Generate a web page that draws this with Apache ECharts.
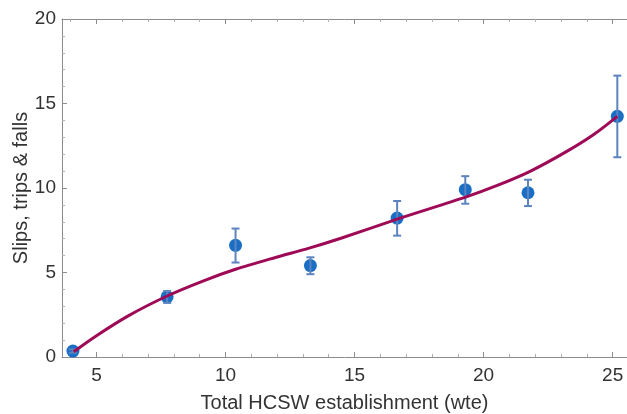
<!DOCTYPE html>
<html>
<head>
<meta charset="utf-8">
<script src="https://cdn.jsdelivr.net/npm/echarts@6/dist/echarts.min.js"></script>
<style>
html,body{margin:0;padding:0;background:#fff;}
#c{width:627px;height:414px;}
</style>
</head>
<body>
<div id="c"></div>
<script>
// Observed points
var pointX = [4.09, 7.74, 10.39, 13.29, 16.65, 19.29, 21.72, 25.18];
var pointY = [0.35, 3.56, 6.61, 5.41, 8.22, 9.90, 9.72, 14.24];
var errLow = [0.25, 3.20, 5.59, 4.90, 7.18, 9.07, 8.93, 11.82];
var errHigh = [0.45, 3.90, 7.60, 5.90, 9.23, 10.70, 10.49, 16.65];
// Fitted curve
var curveX = [4.12, 4.96, 6.25, 7.74, 9.10, 10.39, 11.94, 13.24, 14.50, 16.71, 19.30, 20.53, 21.82, 23.24, 24.28, 25.18];
var curveY = [0.31, 1.22, 2.45, 3.61, 4.48, 5.19, 5.89, 6.44, 7.04, 8.19, 9.46, 10.15, 11.00, 12.18, 13.18, 14.24];
// Axis settings
var xRange = [3.667, 25.555];
var yRange = [0, 20];
var yTickStep = 5;
var xTitle = 'Total HCSW establishment (wte)';
var yTitle = 'Slips, trips & falls';

var pts = pointX.map(function (x, i) { return [x, pointY[i]]; });
var errs = pointX.map(function (x, i) { return [x, errLow[i], errHigh[i]]; });
var curve = curveX.map(function (x, i) { return [x, curveY[i]]; });

var axisGray = '#8c8c8c';
var textColor = '#333333';
var fontFam = '"Liberation Sans", Arial, sans-serif';

var chart = echarts.init(document.getElementById('c'), null, {renderer: 'canvas'});
chart.setOption({
  animation: false,
  grid: {left: 62, top: 19, right: 0, bottom: 57, containLabel: false, outerBoundsMode: 'none'},
  xAxis: [{
    type: 'value', min: xRange[0], max: xRange[1],
    name: xTitle, nameLocation: 'middle', nameGap: 36, nameMoveOverlap: false,
    nameTextStyle: {fontSize: 20, color: textColor, fontFamily: fontFam},
    axisLine: {show: true, lineStyle: {color: axisGray, width: 1}},
    axisTick: {show: true, inside: true, length: 5, lineStyle: {color: axisGray}},
    minorTick: {show: true, splitNumber: 5, length: 3, lineStyle: {color: '#b0b0b0'}},
    axisLabel: {fontSize: 19, color: textColor, fontFamily: fontFam, margin: 9, showMinLabel: false, showMaxLabel: false},
    splitLine: {show: false}
  }, {
    type: 'value', min: xRange[0], max: xRange[1], position: 'top',
    axisLine: {show: true, lineStyle: {color: axisGray, width: 1}},
    axisTick: {show: true, inside: true, length: 5, lineStyle: {color: axisGray}},
    minorTick: {show: true, splitNumber: 5, length: 3, lineStyle: {color: '#b0b0b0'}},
    axisLabel: {show: false},
    splitLine: {show: false}
  }],
  yAxis: [{
    type: 'value', min: yRange[0], max: yRange[1], interval: yTickStep,
    name: yTitle, nameLocation: 'middle', nameGap: 31, nameRotate: 90, nameMoveOverlap: false,
    nameTextStyle: {fontSize: 20, color: textColor, fontFamily: fontFam},
    axisLine: {show: true, lineStyle: {color: axisGray, width: 1}},
    axisTick: {show: true, inside: true, length: 5, lineStyle: {color: axisGray}},
    minorTick: {show: true, splitNumber: 5, length: 3, lineStyle: {color: '#b0b0b0'}},
    axisLabel: {fontSize: 19, color: textColor, fontFamily: fontFam, margin: 6},
    splitLine: {show: false}
  }],
  series: [{
    type: 'scatter', data: pts, symbolSize: 13, z: 2,
    itemStyle: {color: '#1a6fc4', opacity: 1}
  }, {
    type: 'custom', data: errs, z: 3,
    encode: {x: 0, y: [1, 2]},
    renderItem: function (params, api) {
      var x = api.value(0);
      var lo = api.coord([x, api.value(1)]);
      var hi = api.coord([x, api.value(2)]);
      var hw = 4;
      var style = {stroke: '#5c84bf', lineWidth: 2};
      return {type: 'group', children: [
        {type: 'line', shape: {x1: lo[0], y1: lo[1], x2: hi[0], y2: hi[1]}, style: style},
        {type: 'line', shape: {x1: lo[0] - hw, y1: lo[1], x2: lo[0] + hw, y2: lo[1]}, style: style},
        {type: 'line', shape: {x1: hi[0] - hw, y1: hi[1], x2: hi[0] + hw, y2: hi[1]}, style: style}
      ]};
    }
  }, {
    type: 'line', data: curve, smooth: 0.3, symbol: 'none', z: 4,
    lineStyle: {color: '#9e0a56', width: 3}
  }]
});
</script>
</body>
</html>
